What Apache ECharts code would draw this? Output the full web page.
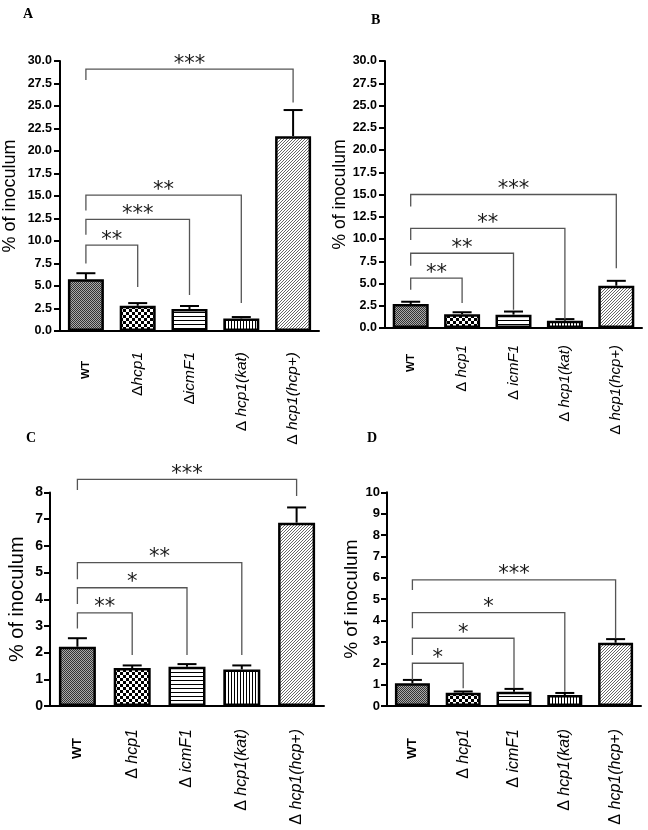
<!DOCTYPE html>
<html><head><meta charset="utf-8">
<script src="https://cdn.jsdelivr.net/npm/echarts@6/dist/echarts.min.js"></script>
<style>html,body{margin:0;padding:0;background:#fff}#c{width:648px;height:830px}</style>
</head><body><div id="c"></div>
<script>
// ---- data ----
const categoriesA = ['WT', 'Δhcp1', 'ΔicmF1', 'Δ hcp1(kat)', 'Δ hcp1(hcp+)'];
const categoriesBCD = ['WT', 'Δ hcp1', 'Δ icmF1', 'Δ hcp1(kat)', 'Δ hcp1(hcp+)'];
const meansA = [5.75, 2.8, 2.44, 1.4, 21.65];
const errA = [0.67, 0.3, 0.34, 0.15, 2.9];
const meansB = [2.7, 1.55, 1.5, 0.82, 4.75];
const errB = [0.25, 0.22, 0.35, 0.18, 0.55];
const meansC = [2.22, 1.42, 1.47, 1.37, 6.87];
const errC = [0.32, 0.1, 0.1, 0.15, 0.57];
const meansD = [1.06, 0.62, 0.67, 0.51, 2.96];
const errD = [0.16, 0.06, 0.13, 0.1, 0.17];
// brackets: [fromIndex, toIndex, barY, leftEndY, rightEndY]
const bracketsA = [[0,4,29.1,27.9,25.4],[0,3,15.1,13.4,3.1],[0,2,12.4,10.7,4.0],[0,1,9.55,7.5,4.9]];
const starsA = ['***','**','***','**'];
const bracketsB = [[0,4,15.0,13.65,6.7],[0,3,11.2,9.9,0.95],[0,2,8.4,7.0,2.05],[0,1,5.6,4.3,2.8]];
const starsB = ['***','**','**','**'];
const bracketsC = [[0,4,8.49,8.09,7.87],[0,3,5.37,4.75,1.91],[0,2,4.43,3.82,1.91],[0,1,3.49,2.9,1.91]];
const starsC = ['***','**','*','**'];
const bracketsD = [[0,4,5.9,5.43,3.17],[0,3,4.37,3.64,0.67],[0,2,3.17,2.39,0.83],[0,1,2.0,1.22,0.83]];
const starsD = ['***','*','*','*'];
const yTicksA = {min:0, max:30, interval:2.5};
const yTicksB = {min:0, max:30, interval:2.5};
const yTicksC = {min:0, max:8, interval:1};
const yTicksD = {min:0, max:10, interval:1};
const panelLetters = ['A','B','C','D'];
const yName = '% of inoculum';

// ---- patterns ----
function tile(w, h, draw) {
  const c = document.createElement('canvas'); c.width = w; c.height = h;
  const g = c.getContext('2d'); g.fillStyle = '#fff'; g.fillRect(0,0,w,h); draw(g); return c;
}
const pats = [
  tile(2,2,g=>{g.fillStyle='#333';g.fillRect(0,0,1,1);g.fillRect(1,1,1,1);g.fillStyle='#aaa';g.fillRect(1,0,1,1);g.fillRect(0,1,1,1);}),
  tile(6,6,g=>{g.fillStyle='#000';g.fillRect(0,0,3,3);g.fillRect(3,3,3,3);}),
  tile(4,4,g=>{g.fillStyle='#000';g.fillRect(0,0,4,1);}),
  tile(3,3,g=>{g.fillStyle='#000';g.fillRect(0,0,1,3);}),
  tile(3,3,g=>{g.fillStyle='#666';g.fillRect(0,2,1,1);g.fillRect(1,1,1,1);g.fillRect(2,0,1,1);})
];

const font = 'Liberation Sans';
const grids = [
  {left:56, top:61, width:263, height:270},
  {left:385, top:61, width:257, height:267},
  {left:50, top:492.5, width:274, height:213.5},
  {left:387, top:492.3, width:254, height:213.7}
];
const nameGaps = [41, 34, 23, 26];
const nameSizes = [18, 17.5, 20, 19];
const tickSizes = [12.5, 12.5, 14, 13];
const tickMargins = [8, 8, 7, 7];
const catSizes = [15.5, 15, 16, 16];
const wtSizes = [11.5, 11.5, 13.5, 13.5];
const catMargins = [21, 17, 23, 23];
const barWidths = [36, 36, 37, 35];
const panels = [
  {cats:categoriesA, means:meansA, err:errA, br:bracketsA, st:starsA, y:yTicksA, dec:1},
  {cats:categoriesBCD, means:meansB, err:errB, br:bracketsB, st:starsB, y:yTicksB, dec:1},
  {cats:categoriesBCD, means:meansC, err:errC, br:bracketsC, st:starsC, y:yTicksC, dec:0},
  {cats:categoriesBCD, means:meansD, err:errD, br:bracketsD, st:starsD, y:yTicksD, dec:0}
];

function catLabel(s) {
  if (s[0] !== 'Δ') return '{b|' + s + '}';
  return '{d|Δ}{i|' + s.slice(1) + '}';
}

const xAxes = [], yAxes = [], series = [];
panels.forEach((p, k) => {
  const fs = catSizes[k];
  xAxes.push({
    type:'category', gridIndex:k, data:p.cats,
    axisLine:{lineStyle:{color:'#000', width:2}},
    axisTick:{alignWithLabel:true, length:6, lineStyle:{color:'#000', width:2}},
    axisLabel:{rotate:90, margin:catMargins[k], formatter:catLabel, color:'#000',
      rich:{
        b:{fontFamily:font, fontWeight:'bold', fontSize:wtSizes[k], color:'#000', padding:[0,9,0,0]},
        d:{fontFamily:font, fontSize:fs, color:'#000'},
        i:{fontFamily:font, fontStyle:'italic', fontSize:fs, color:'#000'}
      }}
  });
  yAxes.push({
    type:'value', gridIndex:k, min:p.y.min, max:p.y.max, interval:p.y.interval,
    name:yName, nameLocation:'middle', nameGap:nameGaps[k], nameRotate:90,
    nameTextStyle:{fontFamily:font, fontSize:nameSizes[k], color:'#000'},
    splitLine:{show:false},
    axisLine:{show:true, lineStyle:{color:'#000', width:2}},
    axisTick:{show:true, length:6, lineStyle:{color:'#000', width:2}},
    axisLabel:{margin:tickMargins[k], fontFamily:font, fontWeight:'bold', fontSize:tickSizes[k], color:'#000',
      formatter:v => v.toFixed(p.dec)}
  });
  series.push({
    type:'bar', xAxisIndex:k, yAxisIndex:k, barWidth:barWidths[k],
    data:p.means.map((v,i)=>({value:v, itemStyle:{color:{image:pats[i], repeat:'repeat'}, borderColor:'#000', borderWidth:2.5}})),
    silent:true, animation:false
  });
  series.push({
    type:'custom', xAxisIndex:k, yAxisIndex:k, animation:false, silent:true, z:3,
    data:p.means.map((v,i)=>[i, v, p.err[i]]),
    renderItem:(params, api)=>{
      const x=api.value(0), v=api.value(1), e=api.value(2);
      const p0=api.coord([x,v]), p1=api.coord([x,v+e]);
      const hw=9.5;
      return {type:'group', children:[
        {type:'line', shape:{x1:p0[0],y1:p0[1],x2:p1[0],y2:p1[1]}, style:{stroke:'#000', lineWidth:2}},
        {type:'line', shape:{x1:p1[0]-hw,y1:p1[1],x2:p1[0]+hw,y2:p1[1]}, style:{stroke:'#000', lineWidth:2}}
      ]};
    }
  });
  series.push({
    type:'custom', xAxisIndex:k, yAxisIndex:k, animation:false, silent:true, z:4,
    data:p.br,
    renderItem:(params, api)=>{
      const a=api.value(0), b=api.value(1), y=api.value(2), yl=api.value(3), yr=api.value(4);
      const q=[api.coord([a,yl]), api.coord([a,y]), api.coord([b,y]), api.coord([b,yr])];
      return {type:'group', children:[
        {type:'polyline', shape:{points:q}, style:{stroke:'#555', lineWidth:1.3, fill:null}},
        {type:'text', style:{text:p.st[params.dataIndex], x:(q[1][0]+q[2][0])/2, y:q[1][1]-5,
          align:'center', verticalAlign:'middle', fontFamily:'DejaVu Sans', fontSize:21, fill:'#1a1a1a'}}
      ]};
    }
  });
});

const letterPos = [[23,7],[371,13],[26,431],[367,431]];
const chart = echarts.init(document.getElementById('c'), null, {renderer:'canvas'});
chart.setOption({
  animation:false,
  grid:grids,
  xAxis:xAxes, yAxis:yAxes, series:series,
  graphic:panelLetters.map((t,i)=>({type:'text', left:letterPos[i][0], top:letterPos[i][1],
    style:{text:t, fontFamily:'Liberation Serif', fontWeight:'bold', fontSize:14, fill:'#000'}}))
});
</script></body></html>
